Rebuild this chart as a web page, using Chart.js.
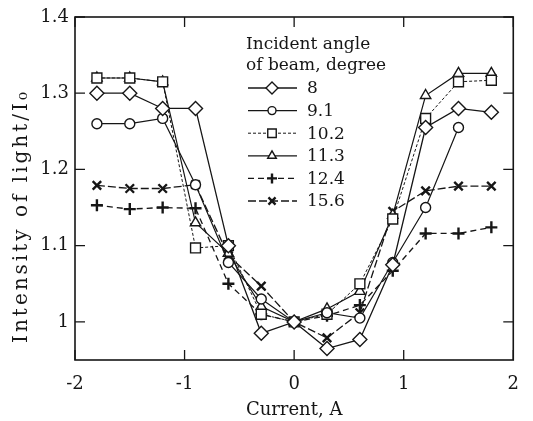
<!DOCTYPE html>
<html>
<head>
<meta charset="utf-8">
<script src="https://cdn.jsdelivr.net/npm/chart.js@4"></script>
<style>
  body { margin: 0; background: #fff; }
</style>
</head>
<body>
<canvas id="chart" width="533" height="421"></canvas>
<script>
// current in A
const currents = [-1.8, -1.5, -1.2, -0.9, -0.6, -0.3, 0, 0.3, 0.6, 0.9, 1.2, 1.5, 1.8];

// intensity of light / I0 for each incident angle
const angle8   = [1.30, 1.30, 1.28, 1.28, 1.10, 0.985, 1.0, 0.965, 0.977, 1.075, 1.255, 1.28, 1.275];
const angle9_1 = [1.26, 1.26, 1.267, 1.18, 1.078, 1.03, 1.0, 1.012, 1.005, 1.078, 1.15, 1.255, null];
const angle10_2 = [1.32, 1.32, 1.315, 1.097, 1.10, 1.01, 1.0, 1.01, 1.05, 1.135, 1.267, 1.315, 1.317];
const angle11_3 = [1.32, 1.32, 1.315, 1.13, 1.09, 1.02, 1.0, 1.017, 1.04, 1.14, 1.297, 1.326, 1.326];
const angle12_4 = [1.153, 1.148, 1.15, 1.149, 1.05, 1.01, 1.0, 1.008, 1.022, 1.067, 1.116, 1.116, 1.124];
const angle15_6 = [1.179, 1.175, 1.175, 1.18, 1.087, 1.047, 1.0, 0.979, 1.012, 1.145, 1.172, 1.178, 1.178];

const angleLabels = ['8', '9.1', '10.2', '11.3', '12.4', '15.6'];
const xTicks = [-2, -1, 0, 1, 2];
const yTicks = [1, 1.1, 1.2, 1.3, 1.4];

const ink = '#161616';
const serif = '"DejaVu Serif", serif';

function pts(vals) {
  return currents.map((c, i) => ({ x: c, y: vals[i] }));
}

function series(label, vals, style, radius, dash, width) {
  return {
    label: label,
    data: pts(vals),
    borderColor: ink,
    backgroundColor: '#fff',
    borderWidth: width,
    borderDash: dash,
    pointStyle: style,
    pointRadius: radius,
    pointBorderWidth: style === 'cross' || style === 'crossRot' ? 2.4 : 1.4,
    pointBorderColor: ink,
    pointBackgroundColor: '#fff',
    spanGaps: false,
    tension: 0
  };
}

const sets = [
  series(angleLabels[0], angle8, 'rectRot', 7, [], 1.3),
  series(angleLabels[1], angle9_1, 'circle', 5, [], 1.2),
  series(angleLabels[2], angle10_2, 'rect', 7, [3, 2], 1),
  series(angleLabels[3], angle11_3, 'triangle', 6, [], 1.2),
  series(angleLabels[4], angle12_4, 'cross', 6, [6, 4], 1.3),
  series(angleLabels[5], angle15_6, 'crossRot', 6, [8, 3], 1.3)
];

// frame plus inward tick marks on all four sides, and the y title
const frameTicks = {
  id: 'frameTicks',
  afterDraw(chart) {
    const { ctx, chartArea: a, scales } = chart;
    ctx.save();
    ctx.strokeStyle = ink;
    ctx.lineWidth = 1.6;
    ctx.setLineDash([]);
    ctx.strokeRect(a.left, a.top, a.right - a.left, a.bottom - a.top);
    ctx.lineWidth = 1.3;
    const len = 10;
    xTicks.forEach(v => {
      const px = scales.x.getPixelForValue(v);
      ctx.beginPath();
      ctx.moveTo(px, a.bottom); ctx.lineTo(px, a.bottom - len);
      ctx.moveTo(px, a.top); ctx.lineTo(px, a.top + len);
      ctx.stroke();
    });
    yTicks.forEach(v => {
      const py = scales.y.getPixelForValue(v);
      ctx.beginPath();
      ctx.moveTo(a.left, py); ctx.lineTo(a.left + len, py);
      ctx.moveTo(a.right, py); ctx.lineTo(a.right - len, py);
      ctx.stroke();
    });

    ctx.translate(22, 216);
    ctx.rotate(-Math.PI / 2);
    ctx.fillStyle = ink;
    ctx.font = '20px ' + serif;
    ctx.letterSpacing = '3px';
    ctx.textAlign = 'center';
    ctx.textBaseline = 'middle';
    ctx.fillText('Intensity of light/I₀', 0, 0);
    ctx.restore();
  }
};

// legend with its two-line heading, drawn inside the plot
const innerLegend = {
  id: 'innerLegend',
  afterDatasetsDraw(chart) {
    const ctx = chart.ctx;
    ctx.save();
    ctx.fillStyle = ink;
    ctx.font = '17px ' + serif;
    ctx.textBaseline = 'middle';
    ctx.textAlign = 'left';
    ctx.fillText('Incident angle', 246, 45);
    ctx.fillText('of beam, degree', 246, 66);
    chart.data.datasets.forEach((ds, i) => {
      const y = 88 + i * 22.6;
      ctx.strokeStyle = ink;
      ctx.lineWidth = ds.borderWidth;
      ctx.setLineDash(ds.borderDash);
      ctx.beginPath();
      ctx.moveTo(248, y); ctx.lineTo(297, y);
      ctx.stroke();
      ctx.setLineDash([]);
      ctx.fillStyle = '#fff';
      ctx.lineWidth = ds.pointBorderWidth;
      Chart.helpers.drawPoint(ctx, {
        pointStyle: ds.pointStyle,
        radius: ds.pointRadius - 1,
        rotation: 0,
        borderWidth: ds.pointBorderWidth
      }, 272, y);
      ctx.fillStyle = ink;
      ctx.fillText(ds.label, 307, y + 1);
    });
    ctx.restore();
  }
};

new Chart(document.getElementById('chart').getContext('2d'), {
  type: 'line',
  data: { datasets: sets },
  options: {
    responsive: false,
    animation: false,
    layout: { padding: { top: 17, right: 16, left: 0, bottom: 0 } },
    plugins: {
      legend: { display: false },
      tooltip: { enabled: false }
    },
    scales: {
      x: {
        type: 'linear',
        min: -2,
        max: 2,
        afterBuildTicks: s => { s.ticks = xTicks.map(v => ({ value: v })); },
        afterFit: s => { s.height = 61; },
        grid: { display: false, drawTicks: false },
        border: { display: false },
        ticks: {
          padding: 14,
          color: ink,
          font: { family: serif, size: 18 },
          callback: v => String(v)
        },
        title: {
          display: true,
          text: 'Current, A',
          color: ink,
          font: { family: serif, size: 18 },
          padding: { top: 0, bottom: 0 }
        }
      },
      y: {
        min: 0.95,
        max: 1.4,
        afterBuildTicks: s => { s.ticks = yTicks.map(v => ({ value: v })); },
        afterFit: s => { s.width = 75; },
        grid: { display: false, drawTicks: false },
        border: { display: false },
        ticks: {
          padding: 6,
          color: ink,
          font: { family: serif, size: 18 },
          callback: v => (v === 1 ? '1' : v.toFixed(1))
        },
        title: { display: false }
      }
    }
  },
  plugins: [frameTicks, innerLegend]
});
</script>
</body>
</html>
